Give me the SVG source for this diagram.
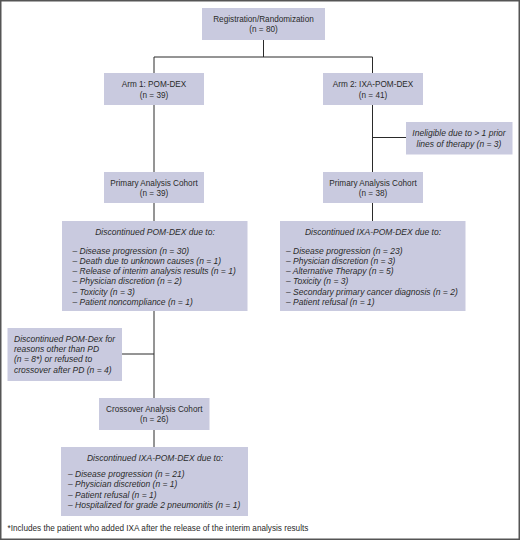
<svg xmlns="http://www.w3.org/2000/svg" width="520" height="540" viewBox="0 0 520 540">
<style>
.box{fill:#c9cadf;}
.t{font-family:"Liberation Sans",Arial,sans-serif;font-size:8.2px;fill:#2a2a2a;}
.c{text-anchor:middle;}
.i{font-style:italic;font-size:8.5px;}
.ln{stroke:#2a2a2a;stroke-width:1;fill:none;}
</style>
<rect x="0.75" y="0.75" width="518.5" height="538.5" fill="#ffffff" stroke="#555555" stroke-width="1.5"/>
<g id="connectors">
<path class="ln" d="M263.5 40V57M154 57H372.5M154 57V73M372.5 57V73"/>
<path class="ln" d="M154 105V172M372.5 105V172M372.5 137.5H406"/>
<path class="ln" d="M154 203V221M372.5 203V221"/>
<path class="ln" d="M154 311V398M122 354H154"/>
<path class="ln" d="M154 430V447"/>
</g>
<g id="registration">
<rect class="box" x="202" y="8" width="123" height="32"/>
<text class="t c" x="263.5" y="21.5">Registration/Randomization</text>
<text class="t c" x="263.5" y="32">(n = 80)</text>
</g>
<g id="arm1">
<rect class="box" x="104" y="73" width="100" height="32"/>
<text class="t c" x="154" y="87">Arm 1: POM-DEX</text>
<text class="t c" x="154" y="97.5">(n = 39)</text>
</g>
<g id="arm2">
<rect class="box" x="323" y="73" width="100" height="32"/>
<text class="t c" x="373" y="87">Arm 2: IXA-POM-DEX</text>
<text class="t c" x="373" y="97.5">(n = 41)</text>
</g>
<g id="ineligible">
<rect class="box" x="406" y="122" width="106.5" height="32.5"/>
<text class="t c i" x="459" y="136.3">Ineligible due to &gt; 1 prior</text>
<text class="t c i" x="459" y="147">lines of therapy (n = 3)</text>
</g>
<g id="primary1">
<rect class="box" x="104" y="172" width="100" height="31"/>
<text class="t c" x="154" y="185.5">Primary Analysis Cohort</text>
<text class="t c" x="154" y="196">(n = 39)</text>
</g>
<g id="primary2">
<rect class="box" x="323" y="172" width="100" height="31"/>
<text class="t c" x="373" y="185.5">Primary Analysis Cohort</text>
<text class="t c" x="373" y="196">(n = 38)</text>
</g>
<g id="disc1">
<rect class="box" x="62" y="221" width="185.5" height="90"/>
<text class="t c i" x="155" y="234.5">Discontinued POM-DEX due to:</text>
<text class="t i" x="72.5" y="253.5">– Disease progression (n = 30)</text>
<text class="t i" x="72.5" y="263.8">– Death due to unknown causes (n = 1)</text>
<text class="t i" x="72.5" y="274.1">– Release of interim analysis results (n = 1)</text>
<text class="t i" x="72.5" y="284.4">– Physician discretion (n = 2)</text>
<text class="t i" x="72.5" y="294.7">– Toxicity (n = 3)</text>
<text class="t i" x="72.5" y="305">– Patient noncompliance (n = 1)</text>
</g>
<g id="disc2">
<rect class="box" x="280" y="221" width="185.5" height="90"/>
<text class="t c i" x="373" y="234.5">Discontinued IXA-POM-DEX due to:</text>
<text class="t i" x="286" y="253.5">– Disease progression (n = 23)</text>
<text class="t i" x="286" y="263.8">– Physician discretion (n = 3)</text>
<text class="t i" x="286" y="274.1">– Alternative Therapy (n = 5)</text>
<text class="t i" x="286" y="284.4">– Toxicity (n = 3)</text>
<text class="t i" x="286" y="294.7">– Secondary primary cancer diagnosis (n = 2)</text>
<text class="t i" x="286" y="305">– Patient refusal (n = 1)</text>
</g>
<g id="sidebox">
<rect class="box" x="7.5" y="328" width="114.5" height="53"/>
<text class="t i" x="14" y="341.5">Discontinued POM-Dex for</text>
<text class="t i" x="14" y="352">reasons other than PD</text>
<text class="t i" x="14" y="362.3">(n = 8*) or refused to</text>
<text class="t i" x="14" y="372.6">crossover after PD (n = 4)</text>
</g>
<g id="crossover">
<rect class="box" x="99" y="398" width="110.5" height="32"/>
<text class="t c" x="154.25" y="411.5">Crossover Analysis Cohort</text>
<text class="t c" x="154.25" y="422">(n = 26)</text>
</g>
<g id="disc3">
<rect class="box" x="61" y="447" width="187" height="69"/>
<text class="t c i" x="155" y="460.5">Discontinued IXA-POM-DEX due to:</text>
<text class="t i" x="68" y="477">– Disease progression (n = 21)</text>
<text class="t i" x="68" y="487.3">– Physician discretion (n = 1)</text>
<text class="t i" x="68" y="497.6">– Patient refusal (n = 1)</text>
<text class="t i" x="68" y="507.9">– Hospitalized for grade 2 pneumonitis (n = 1)</text>
</g>
<text class="t" x="7.5" y="531">*Includes the patient who added IXA after the release of the interim analysis results</text>
</svg>
